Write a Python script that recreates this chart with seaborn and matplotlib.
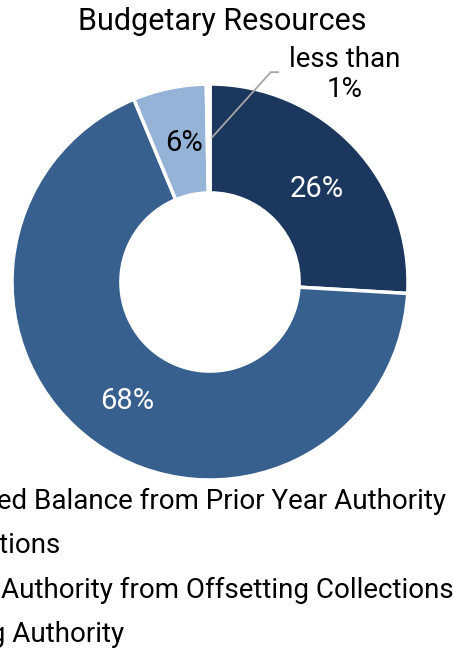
import matplotlib
matplotlib.use("Agg")
import matplotlib.pyplot as plt
import seaborn as sns
from matplotlib.patches import Patch

sns.set_theme(style="white")
plt.rcParams['font.family'] = ['Roboto', 'DejaVu Sans']
plt.rcParams['text.color'] = 'black'

# Data
categories = ['Unobligated Balance from Prior Year Authority', 'Appropriations',
              'Spending Authority from Offsetting Collections', 'Borrowing Authority']
# drawn clockwise from 12 o'clock
shares = [26, 68, 6, 0.3]
labels = ['26%', '68%', '6%', 'less than\n1%']
colors = ['#1b375e', '#37608f', '#95b3d7', '#dce6f1']

fig = plt.figure(figsize=(4.54, 6.48), dpi=100)
W, H = 454, 648
cx, cy, r = 210, 282, 198
ax = fig.add_axes([(cx - r) / W, (H - cy - r) / H, 2 * r / W, 2 * r / H])

wedges, _ = ax.pie(shares, colors=colors, startangle=90, counterclock=False,
                   radius=1, wedgeprops=dict(width=0.55, edgecolor='white', linewidth=2.5))
ax.set_xlim(-1, 1)
ax.set_ylim(-1, 1)
ax.set_aspect('equal')
ax.axis('off')

ax.text(0.54, 0.47, labels[0], color='white', fontsize=21, ha='center', va='center')
ax.text(-0.42, -0.6, labels[1], color='white', fontsize=21, ha='center', va='center')
ax.text(-0.13, 0.70, labels[2], color='black', fontsize=21, ha='center', va='center')
# leader line for the tiny slice
ax.annotate('', xy=(0.01, 0.73), xytext=(0.345, 1.06), annotation_clip=False,
            arrowprops=dict(arrowstyle='-', color='#a6a6a6', lw=1.3,
                            connectionstyle='angle,angleA=0,angleB=48,rad=0',
                            shrinkA=0, shrinkB=0))
ax.text(0.68, 1.05, labels[3], fontsize=20, ha='center', va='center',
        linespacing=1.15, clip_on=False)

fig.text(222 / W, 1 - 22 / H, 'Budgetary Resources', fontsize=22, ha='center', va='center')

handles = [Patch(facecolor=c, edgecolor='none') for c in colors]
fig.legend(handles, categories, loc='upper left', bbox_to_anchor=(-0.365, 1 - 477 / H),
           frameon=False, fontsize=20, labelspacing=0.62, handlelength=0.7,
           handleheight=0.7, handletextpad=0.5, borderaxespad=0)

fig.savefig('out.png', dpi=100)
